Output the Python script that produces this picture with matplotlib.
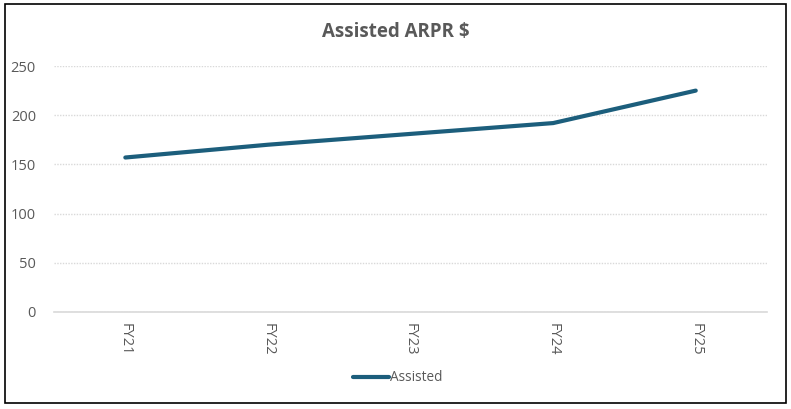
"""Assisted ARPR $ by fiscal year, Excel-style line chart."""

import matplotlib
matplotlib.use("Agg")
import matplotlib.pyplot as plt
from matplotlib.patches import Rectangle

# ---------------------------------------------------------------------------
# Data
# ---------------------------------------------------------------------------

YEARS    = ["FY21", "FY22", "FY23", "FY24", "FY25"]
ASSISTED = [157, 170, 181, 192, 225]
Y_TICKS  = [0, 50, 100, 150, 200, 250]

LINE_COLOR = "#1c5e7c"
TEXT_COLOR = "#595959"
GRID_COLOR = "#d9d9d9"

plt.rcParams["font.family"] = ["Open Sans", "DejaVu Sans"]

fig = plt.figure(figsize=(7.91, 4.09), dpi=100)
ax = fig.add_axes([0.0683, 0.2372, 0.9014, 0.6014])

x = list(range(len(YEARS)))
ax.plot(x, ASSISTED, color=LINE_COLOR, linewidth=3.0,
        solid_capstyle="round", label="Assisted")

ax.set_xlim(-0.5, len(YEARS) - 0.5)
ax.set_ylim(0, 250)
ax.set_xticks(x)
ax.set_xticklabels(YEARS, rotation=-90)
ax.set_yticks(Y_TICKS)

ax.tick_params(axis="both", length=0, colors=TEXT_COLOR, labelsize=10.5)
ax.tick_params(axis="y", pad=13)
ax.tick_params(axis="x", pad=8)

ax.grid(axis="y", color=GRID_COLOR, linestyle=(0, (1, 1)), linewidth=1.0)
ax.set_axisbelow(True)
for side in ("top", "right", "left"):
    ax.spines[side].set_visible(False)
ax.spines["bottom"].set_color(GRID_COLOR)
ax.spines["bottom"].set_linewidth(1.2)

fig.text(0.5, 0.922, "Assisted ARPR $", ha="center", va="center",
         fontsize=13.5, fontweight="bold", color=TEXT_COLOR)

fig.legend(loc="center", bbox_to_anchor=(0.503, 0.076), frameon=False,
           fontsize=9.8, labelcolor=TEXT_COLOR, handlelength=2.6,
           handletextpad=0.1)

# outer chart border
fig.patches.append(Rectangle((0.006, 0.015), 0.988, 0.975,
                             transform=fig.transFigure, fill=False,
                             edgecolor="black", linewidth=1.2))

fig.savefig("out.png", dpi=100)
